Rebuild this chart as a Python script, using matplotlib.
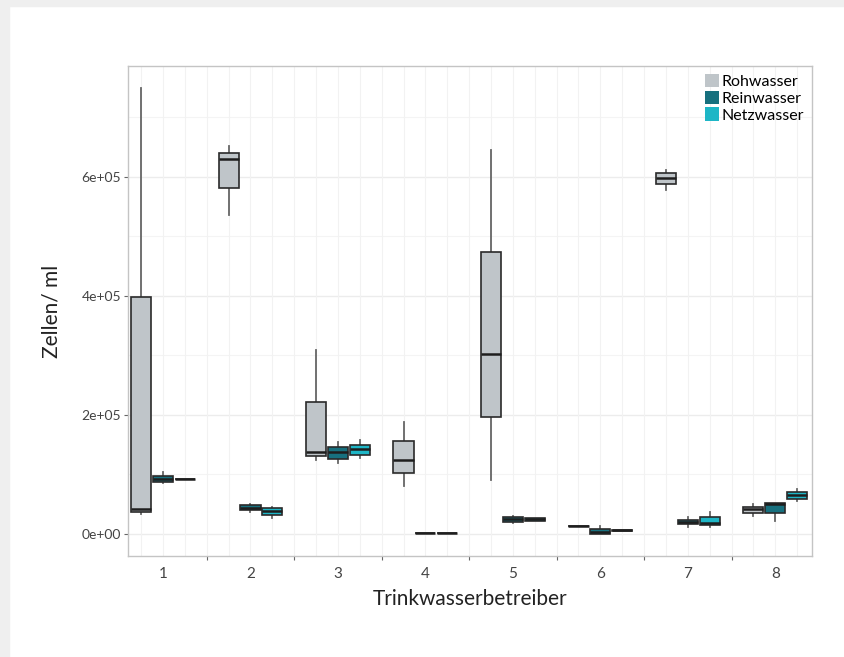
import matplotlib
matplotlib.use("Agg")
import matplotlib.pyplot as plt
from matplotlib.patches import Patch, Rectangle
import numpy as np

plt.rcParams['font.family'] = ['Lato', 'DejaVu Sans']

# Betreiber 1..8, je drei Wasserarten (Werte aus der Abbildung geschätzt)
betreiber = ['1', '2', '3', '4', '5', '6', '7', '8']
arten = ['Rohwasser', 'Reinwasser', 'Netzwasser']
farben = ['#bfc5c9', '#17707e', '#1eb6c6']

# whislo, q1, med, q3, whishi
roh = [
    (33600, 37000, 42000, 398000, 750000),
    (536000, 581000, 631000, 640000, 652000),
    (124000, 131000, 138000, 222000, 309000),
    (81000, 102000, 124000, 157000, 189000),
    (91000, 196000, 302000, 474000, 645000),
    (14000, 14000, 14000, 14000, 14000),
    (578000, 588000, 598000, 607000, 612000),
    (30000, 36000, 41500, 46000, 50000),
]
rein = [
    (86000, 87000, 92400, 97500, 104700),
    (37000, 40300, 44200, 48200, 49900),
    (118800, 125500, 137000, 146800, 155100),
    (1200, 1200, 1200, 1200, 1200),
    (19000, 20200, 24700, 28000, 29500),
    (0, 0, 2900, 7900, 13400),
    (12300, 16800, 20200, 23500, 28600),
    (22400, 35800, 50400, 51600, 51600),
]
netz = [
    (92400, 92400, 92400, 92400, 92400),
    (26400, 32400, 38100, 43200, 45900),
    (127200, 132800, 142300, 149600, 158000),
    (1200, 1200, 1200, 1200, 1200),
    (22400, 22400, 24700, 26400, 26400),
    (4500, 4500, 6200, 7200, 7200),
    (12300, 14600, 19000, 29100, 37500),
    (56000, 58300, 65000, 70100, 75100),
]

fig = plt.figure(figsize=(8.44, 6.57), dpi=100)
fig.patches.append(Rectangle((0, 1 - 6 / 657), 1, 6 / 657, transform=fig.transFigure,
                             color='#efefef', zorder=0))
fig.patches.append(Rectangle((0, 0), 9 / 844, 1, transform=fig.transFigure,
                             color='#efefef', zorder=0))
ax = fig.add_axes([128 / 844, 1 - 556 / 657, (812 - 128) / 844, (556 - 66) / 657])

x = np.arange(1, len(betreiber) + 1)
for serie, farbe, off in zip([roh, rein, netz], farben, [-0.25, 0, 0.25]):
    stats = [dict(whislo=s[0], q1=s[1], med=s[2], q3=s[3], whishi=s[4], fliers=[])
             for s in serie]
    bp = ax.bxp(stats, positions=x + off, widths=0.23, patch_artist=True,
                showcaps=False, manage_ticks=False,
                boxprops=dict(facecolor=farbe, edgecolor='#2a2a2a', linewidth=1.2),
                medianprops=dict(color='#1e1e1e', linewidth=1.8),
                whiskerprops=dict(color='#666666', linewidth=1.3))
    for b in bp['boxes']:
        b.set_zorder(3)
    for m in bp['medians']:
        m.set_zorder(4)

ax.set_xlim(0.6, 8.42)
ax.set_ylim(-37000, 786500)

# Gitter
ax.set_yticks([0, 2e5, 4e5, 6e5])
ax.set_yticklabels(['0e+00', '2e+05', '4e+05', '6e+05'])
ax.set_yticks([1e5, 3e5, 5e5, 7e5], minor=True)
for yv in [0, 2e5, 4e5, 6e5]:
    ax.axhline(yv, color='#ececec', linewidth=1, zorder=0)
for yv in [1e5, 3e5, 5e5, 7e5]:
    ax.axhline(yv, color='#f4f4f4', linewidth=0.8, zorder=0)
for xv in np.arange(0.75, 8.3, 0.25):
    ax.axvline(xv, color='#f2f2f2', linewidth=0.8, zorder=0)

ax.set_xticks(np.arange(1.5, 8, 1))
ax.set_xticklabels([])
ax.set_xticks(x, minor=True)
ax.set_xticklabels(betreiber, minor=True)
ax.tick_params(axis='x', which='major', length=3, color='#666666')
ax.tick_params(axis='x', which='minor', length=0, pad=8, labelsize=11, labelcolor='#444444')
ax.tick_params(axis='y', which='major', length=3, color='#666666', labelsize=10,
               labelcolor='#444444', pad=2)
ax.tick_params(axis='y', which='minor', length=0)

for sp in ax.spines.values():
    sp.set_color('#c4c4c4')
    sp.set_linewidth(1)

ax.set_xlabel('Trinkwasserbetreiber', fontsize=15, color='#222222', labelpad=6)
ax.set_ylabel('Zellen/ ml', fontsize=15, color='#222222', labelpad=14)

handles = [Patch(facecolor=f, edgecolor='none', label=a) for f, a in zip(farben, arten)]
ax.legend(handles=handles, loc='upper right', frameon=False, fontsize=11.5,
          handlelength=0.9, handleheight=0.9, handletextpad=0.15, labelspacing=0.1,
          borderaxespad=0.3, borderpad=0.2)

plt.savefig('out.png', dpi=100)
